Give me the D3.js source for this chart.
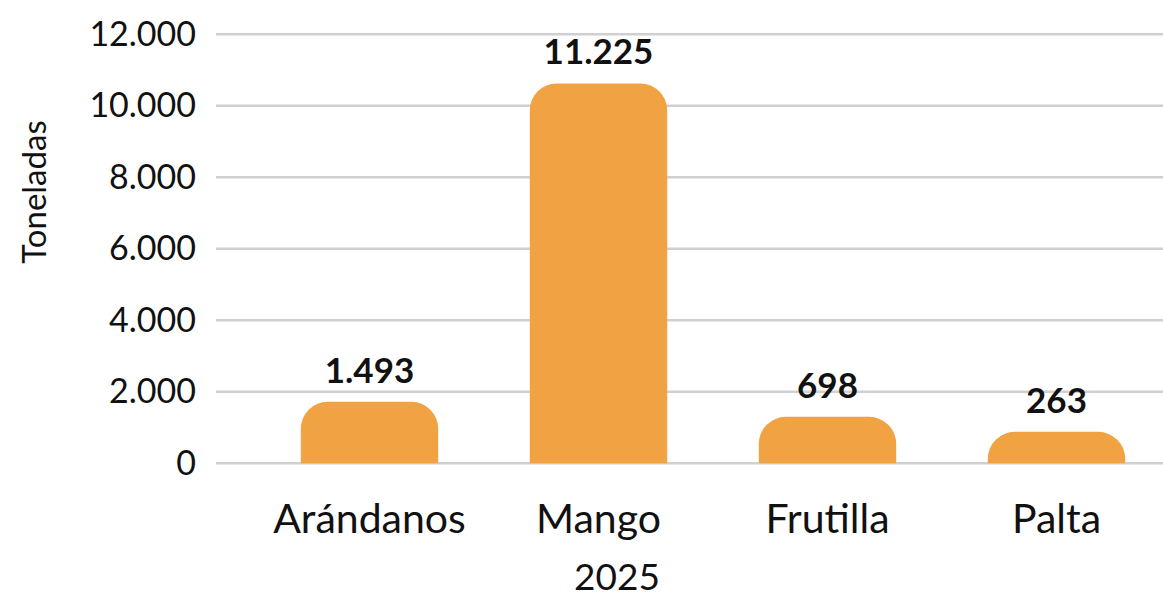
<!DOCTYPE html>
<html>
<head>
<meta charset="utf-8">
<script src="https://cdn.jsdelivr.net/npm/d3@7"></script>
<style>
  body { margin: 0; background: #fff; }
  text { font-family: Lato, "Open Sans", sans-serif; fill: #111; }
</style>
</head>
<body>
<script>
// Categories and values
var categorias = ["Arándanos", "Mango", "Frutilla", "Palta"];
// height of each bar as drawn in the picture (toneladas)
var alturas = [1720, 10625, 1300, 880];
// the number printed above each bar
var etiquetas = ["1.493", "11.225", "698", "263"];
var ticksY = [0, 2000, 4000, 6000, 8000, 10000, 12000];

var width = 1163, height = 600;

var svg = d3.select("body")
    .append("svg")
    .attr("width", width)
    .attr("height", height);

// Set the ranges
var x = d3.scaleBand()
    .domain(categorias)
    .range([255, 1171])
    .paddingInner(0.4)
    .paddingOuter(0.2);

var y = d3.scaleLinear()
    .domain([0, 12000])
    .range([463.3, 34.3]);

// gridlines
svg.append("g")
  .selectAll("line")
  .data(ticksY)
  .enter().append("line")
    .attr("x1", 216)
    .attr("x2", width)
    .attr("y1", function(d) { return y(d); })
    .attr("y2", function(d) { return y(d); })
    .attr("stroke", "#d0d0d0")
    .attr("stroke-width", 2.5);

// y axis labels, with a dot as thousands separator
var fmt = d3.formatLocale({decimal: ",", thousands: ".", grouping: [3], currency: ["$", ""]}).format(",");

svg.append("g")
  .selectAll("text")
  .data(ticksY)
  .enter().append("text")
    .attr("x", 196)
    .attr("y", function(d) { return y(d); })
    .attr("dy", "0.33em")
    .attr("text-anchor", "end")
    .style("font-size", "34px")
    .text(function(d) { return fmt(d); });

// Rounded top bars
function barPath(x0, w, yTop, yBase) {
  var h = yBase - yTop;
  var r = Math.min(27, h, w / 2);
  return "M" + x0 + "," + yBase +
    "V" + (yTop + r) +
    "A" + r + "," + r + " 0 0 1 " + (x0 + r) + "," + yTop +
    "H" + (x0 + w - r) +
    "A" + r + "," + r + " 0 0 1 " + (x0 + w) + "," + (yTop + r) +
    "V" + yBase + "Z";
}

svg.append("g")
  .selectAll("path")
  .data(categorias)
  .enter().append("path")
    .attr("fill", "#F1A242")
    .attr("d", function(d, i) {
      return barPath(x(d), x.bandwidth(), y(alturas[i]), y(0));
    });

// value labels
svg.append("g")
  .selectAll("text")
  .data(categorias)
  .enter().append("text")
    .attr("x", function(d) { return x(d) + x.bandwidth() / 2; })
    .attr("y", function(d, i) { return y(alturas[i]) - 19; })
    .attr("text-anchor", "middle")
    .style("font-size", "35px")
    .style("font-weight", "bold")
    .text(function(d, i) { return etiquetas[i]; });

// category labels
svg.append("g")
  .selectAll("text")
  .data(categorias)
  .enter().append("text")
    .attr("x", function(d) { return x(d) + x.bandwidth() / 2; })
    .attr("y", 532.7)
    .attr("text-anchor", "middle")
    .style("font-size", "41px")
    .text(function(d) { return d; });

// x title
svg.append("text")
    .attr("x", 617)
    .attr("y", 590)
    .attr("text-anchor", "middle")
    .style("font-size", "37px")
    .text("2025");

// y title
svg.append("text")
    .attr("transform", "translate(46,192) rotate(-90)")
    .attr("text-anchor", "middle")
    .style("font-size", "33px")
    .text("Toneladas");
</script>
</body>
</html>
